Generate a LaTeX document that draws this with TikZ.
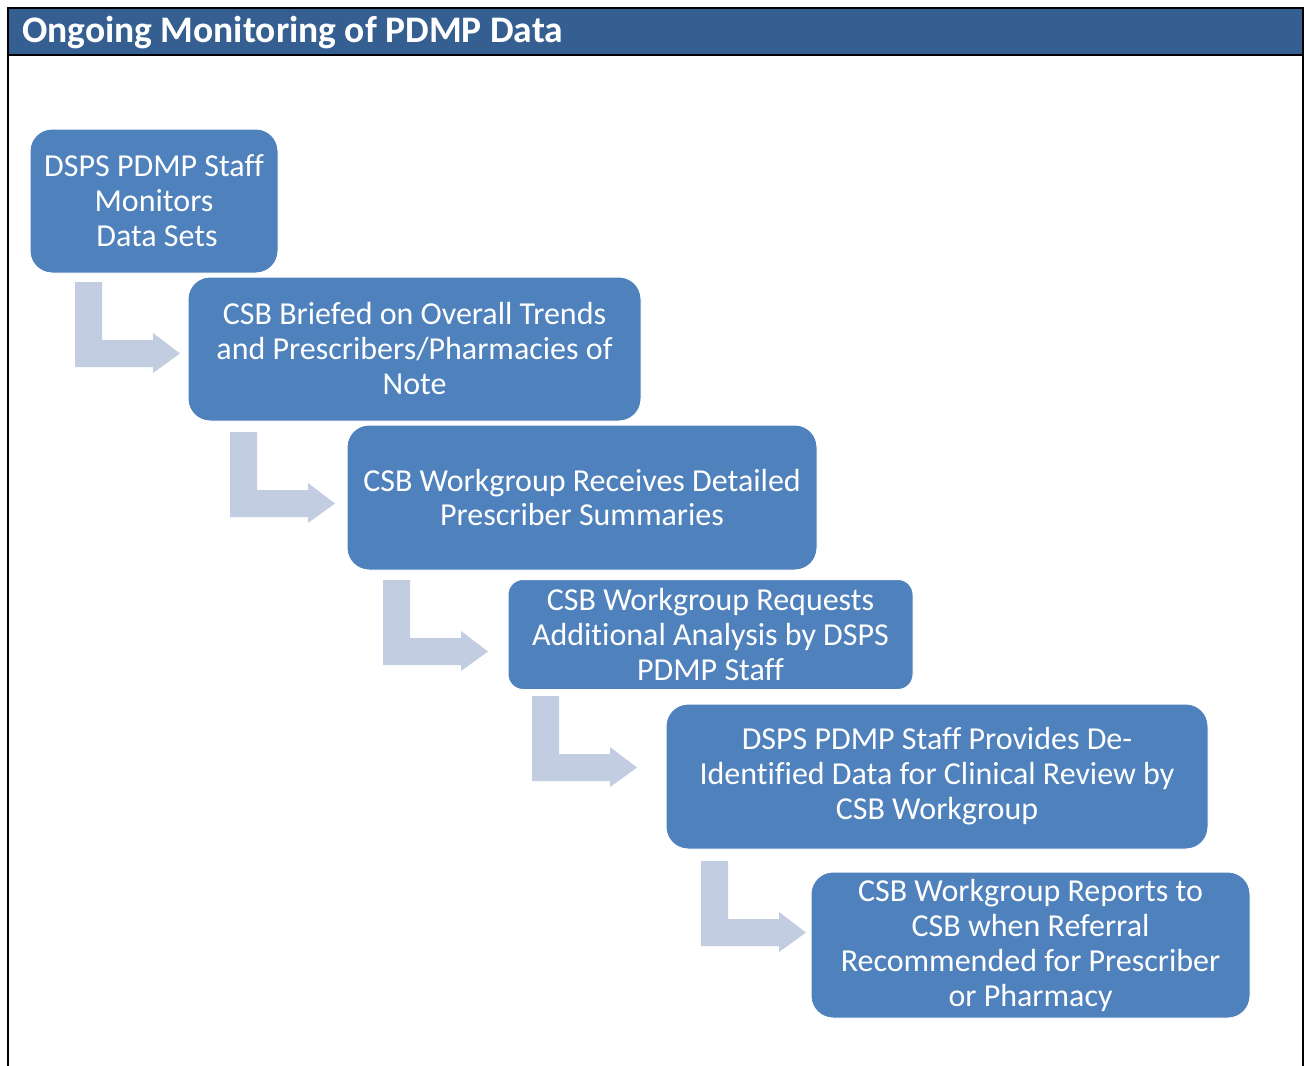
\documentclass[tikz,border=0pt]{standalone}
\usepackage{fontspec}
\setmainfont{Carlito}[Ligatures=NoCommon]
\definecolor{hdrblue}{RGB}{54,95,145}
\definecolor{boxblue}{RGB}{79,129,189}
\definecolor{arrblue}{RGB}{195,205,226}
\tikzset{
  x=1pt,y=-1pt,
  flowbox/.style={draw=white,line width=1pt,fill=boxblue,rounded corners=22pt,
    text=white,align=center,font=\fontsize{32}{35}\selectfont,inner sep=0pt},
  bentarrowfill/.style={fill=arrblue,draw=none}
}
\newcommand\bentarr[1]{%
  \fill[arrblue] (#1) -- ++(27,0) -- ++(0,58) -- ++(51,0) -- ++(0,-7)
    -- ++(27,20.5) -- ++(-27,19.5) -- ++(0,-6) -- ++(-78,0) -- cycle;}
\begin{document}
\begin{tikzpicture}
\useasboundingbox (0,0) rectangle (1305,1065);
\fill[white] (0,0) rectangle (1305,1065);
% header
\fill[hdrblue] (8,8) rectangle (1303,55);
\draw[line width=2pt] (8,1066) -- (8,8) -- (1303,8) -- (1303,1066);
\draw[line width=2pt] (8,55) -- (1303,55);
\node[anchor=west,text=white,font=\fontsize{37.5}{40}\selectfont\bfseries,inner sep=0pt] (title) at (22,33) {Ongoing Monitoring of PDMP Data};
% boxes
\node[flowbox,minimum width=248pt,minimum height=144pt] (b1) at (154,201) {DSPS PDMP Staff\\Monitors\\\hspace*{6pt}Data Sets};
\node[flowbox,minimum width=453pt,minimum height=144pt] (b2) at (414.5,349) {CSB Briefed on Overall Trends\\and Prescribers/Pharmacies of\\Note};
\node[flowbox,minimum width=470pt,minimum height=145pt] (b3) at (582,497.5) {CSB Workgroup Receives Detailed\\Prescriber Summaries};
\node[flowbox,rounded corners=15pt,minimum width=405pt,minimum height=110pt] (b4) at (710.5,634.5) {CSB Workgroup Requests\\Additional Analysis by DSPS\\PDMP Staff};
\node[flowbox,minimum width=542pt,minimum height=145pt] (b5) at (937,776.5) {DSPS PDMP Staff Provides De-\\Identified Data for Clinical Review by\\CSB Workgroup};
\node[flowbox,minimum width=439pt,minimum height=146pt] (b6) at (1030.5,945) {CSB Workgroup Reports to\\CSB when Referral\\Recommended for Prescriber\\or Pharmacy};
% bent arrows
\coordinate (a1) at (75,282);
\coordinate (a2) at (230,432);
\coordinate (a3) at (383,580);
\coordinate (a4) at (532,696);
\coordinate (a5) at (701,861);
\bentarr{a1}
\bentarr{a2}
\bentarr{a3}
\bentarr{a4}
\bentarr{a5}
\end{tikzpicture}
\end{document}
